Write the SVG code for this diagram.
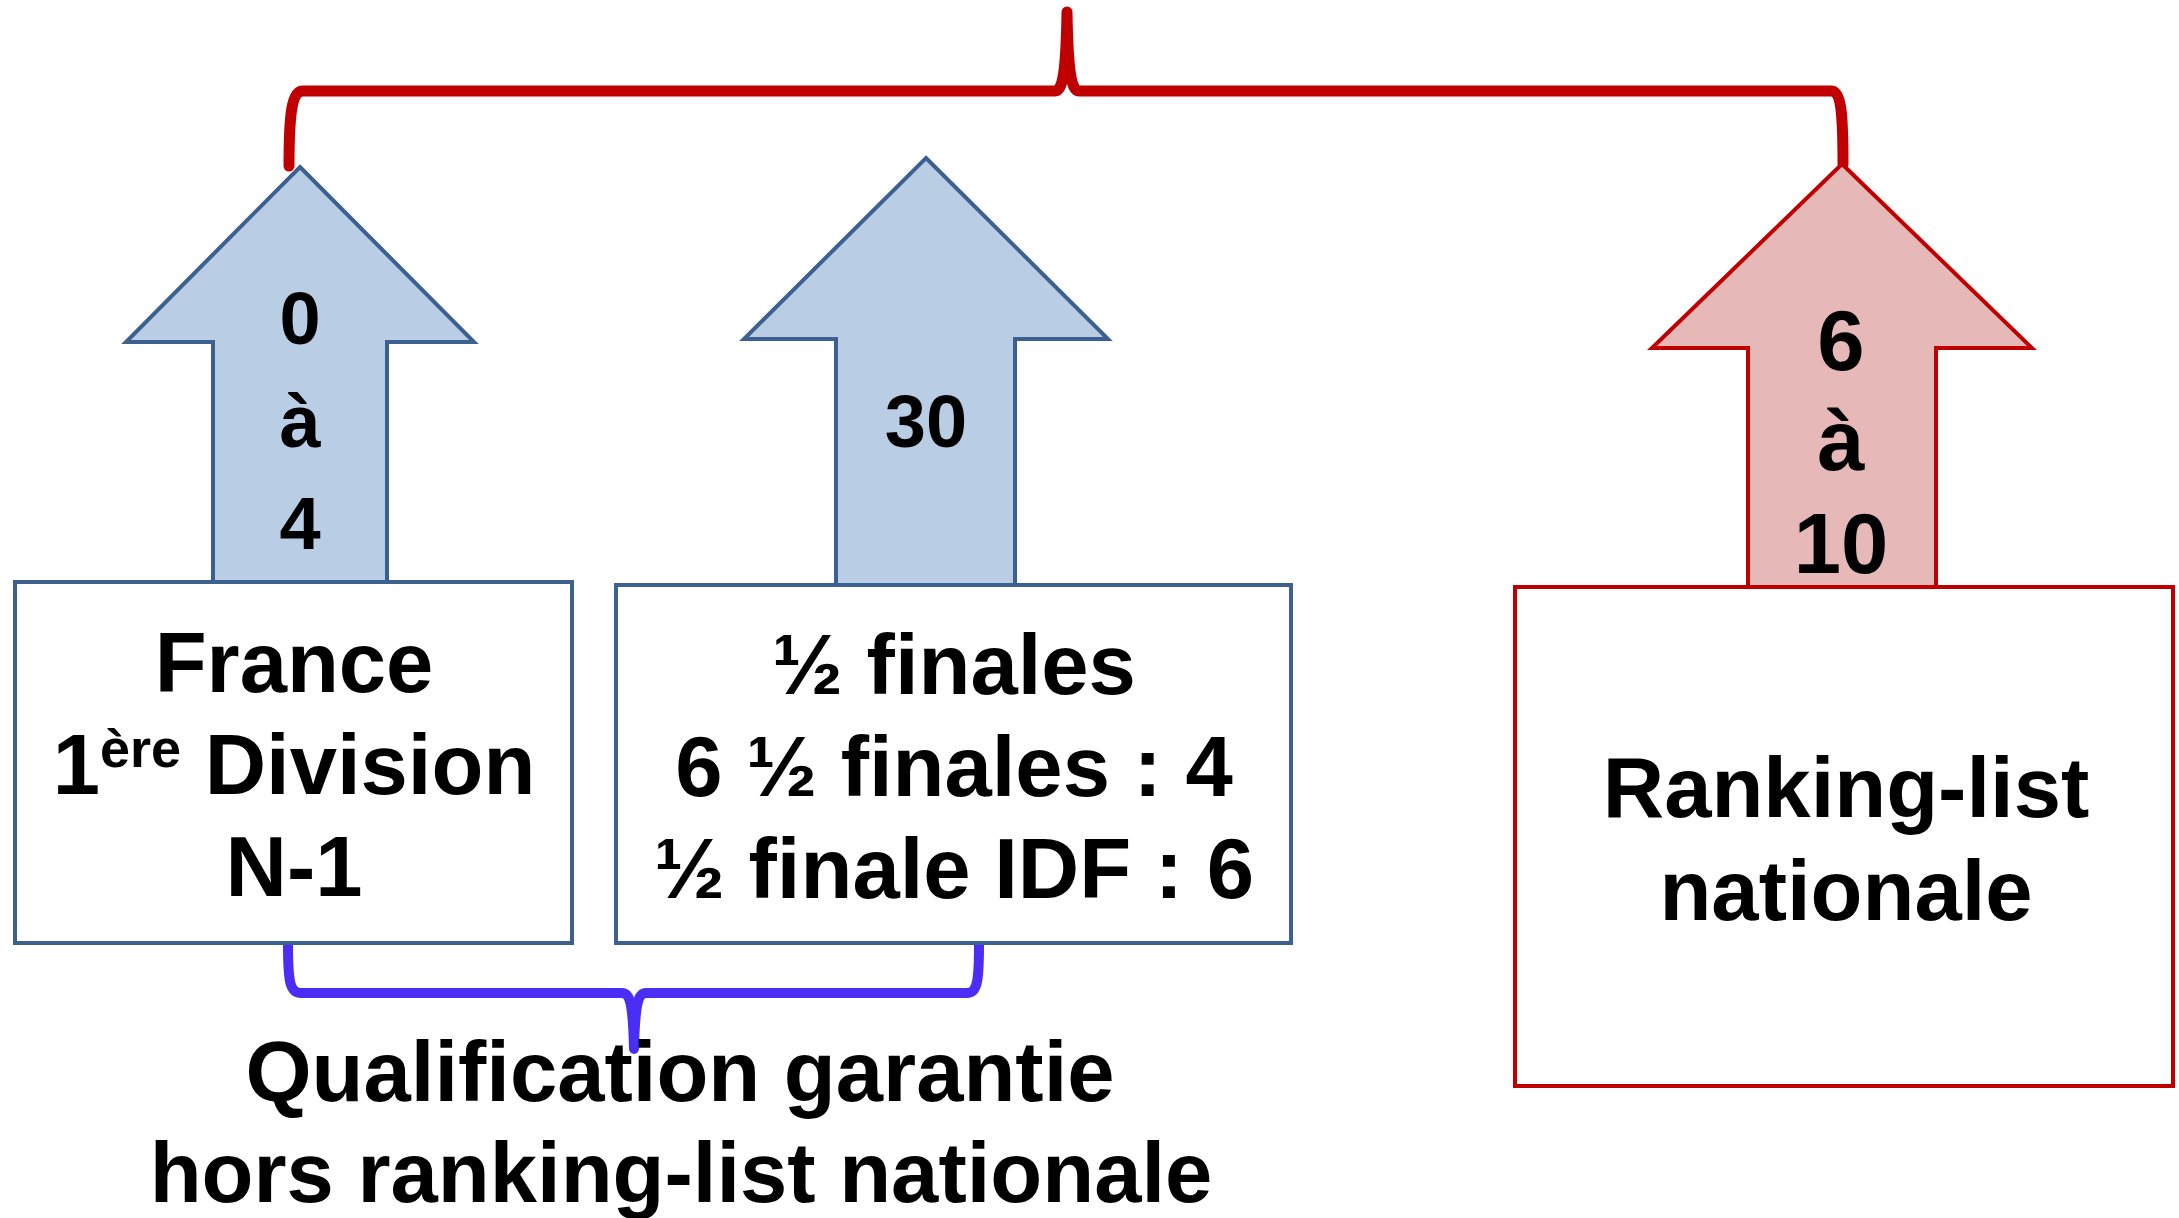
<svg xmlns="http://www.w3.org/2000/svg" width="2179" height="1218" viewBox="0 0 2179 1218">
<style>
.blue{fill:#B9CDE5;stroke:#3C6090;stroke-width:4}
.red{fill:#E6B9B8;stroke:#C00000;stroke-width:4}
.box{fill:#FFFFFF;stroke-width:4}
.t{font-family:"Liberation Sans",Arial,sans-serif;font-weight:bold;font-size:85px;fill:#000;text-anchor:middle}
.n{font-family:"Liberation Sans",Arial,sans-serif;font-weight:bold;font-size:74px;fill:#000;text-anchor:middle}
.brace{fill:none;stroke-linecap:round;stroke-linejoin:round}
</style>
<rect width="2179" height="1218" fill="#FFFFFF"/>
<g id="connectors">
<path class="brace" stroke="#C00000" stroke-width="11" d="M289,166 C289,112 292,91 303,91 L1055,91 C1063,91 1066,70 1067,12 C1068,70 1071,91 1079,91 L1831,91 C1841,91 1843,112 1843,164"/>
<path class="brace" stroke="#4A2EF5" stroke-width="10" d="M288,945 C288,982 290,993 301,993 L622,993 C630,993 633,1003 634,1049 C635,1003 638,993 646,993 L967,993 C977,993 979,982 979,945"/>
</g>
<g id="arrow1">
<polygon class="blue" points="300,167 474,342 387,342 387,582 213,582 213,342 126,342"/>
<text class="n" x="300" y="344">0</text>
<text class="n" x="300" y="447">à</text>
<text class="n" x="300" y="549">4</text>
</g>
<g id="arrow2">
<polygon class="blue" points="926,158 1108,339 1015,339 1015,585 836,585 836,339 744,339"/>
<text class="n" x="926" y="447">30</text>
</g>
<g id="arrow3">
<polygon class="red" points="1842,164 2032,348 1936,348 1936,587 1748,587 1748,348 1652,348"/>
<text class="t" x="1841" y="370">6</text>
<text class="t" x="1841" y="470">à</text>
<text class="t" x="1841" y="573">10</text>
</g>
<g id="box1">
<rect class="box" x="15" y="582" width="557" height="361" stroke="#3C6090"/>
<text class="t" x="294" y="692">France</text>
<text class="t" x="294" y="794">1<tspan font-size="54" dy="-27">ère</tspan><tspan dy="27"> Division</tspan></text>
<text class="t" x="294" y="896">N-1</text>
</g>
<g id="box2">
<rect class="box" x="616" y="585" width="675" height="358" stroke="#3C6090"/>
<text class="t" x="954" y="694">½ finales</text>
<text class="t" x="954" y="796">6 ½ finales : 4</text>
<text class="t" x="954" y="898">½ finale IDF : 6</text>
</g>
<g id="box3">
<rect class="box" x="1515" y="587" width="658" height="499" stroke="#C00000"/>
<text class="t" x="1846" y="817">Ranking-list</text>
<text class="t" x="1846" y="920">nationale</text>
</g>
<g id="label">
<text class="t" x="680" y="1101">Qualification garantie</text>
<text class="t" x="681" y="1202">hors ranking-list nationale</text>
</g>
</svg>
